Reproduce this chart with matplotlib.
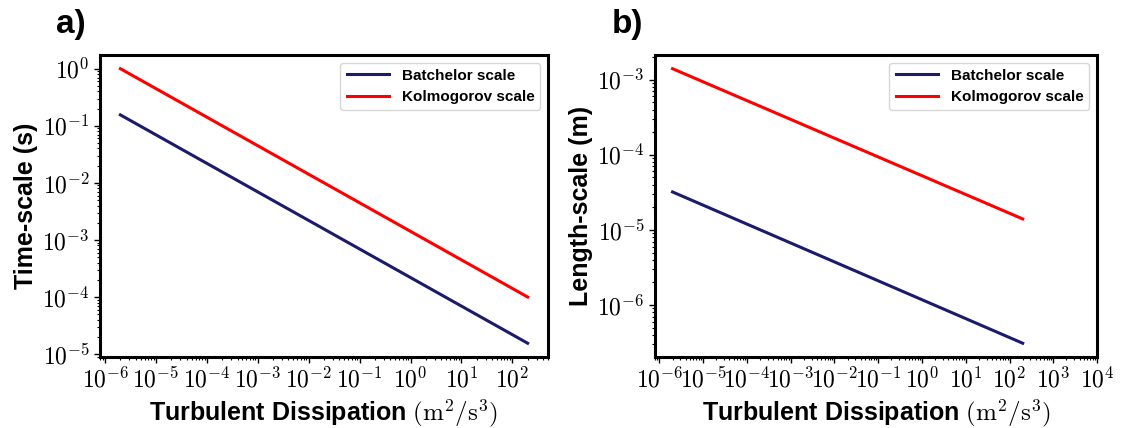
import matplotlib
matplotlib.use('Agg')
import matplotlib.pyplot as plt
import numpy as np
from matplotlib.ticker import FuncFormatter, LogLocator

plt.rcParams['mathtext.fontset'] = 'cm'
plt.rcParams['font.family'] = 'Liberation Sans'

# values (straight lines in log-log)
dissipation = [2e-6, 2e2]
time_batchelor = [0.155, 1.55e-5]
time_kolmogorov = [1.0, 1.0e-4]
length_batchelor = [3.2e-5, 3.1e-7]
length_kolmogorov = [1.4e-3, 1.4e-5]

navy = '#1b1b6b'
red = '#ff0000'


def pow10(v, pos):
    return r'$10^{%d}$' % int(round(np.log10(v)))


def style(ax, ylabel):
    ax.set_xscale('log')
    ax.set_yscale('log')
    for s in ax.spines.values():
        s.set_linewidth(2.2)
    ax.xaxis.set_major_locator(LogLocator(base=10, numticks=20))
    ax.xaxis.set_minor_locator(LogLocator(base=10, subs=np.arange(2, 10), numticks=20))
    ax.xaxis.set_major_formatter(FuncFormatter(pow10))
    ax.yaxis.set_major_formatter(FuncFormatter(pow10))
    ax.tick_params(which='major', labelsize=17, length=4, width=1)
    ax.tick_params(which='minor', length=2, width=0.8)
    ax.set_xlabel(r'Turbulent Dissipation $(\mathrm{m^2/s^3})$', fontsize=18, fontweight='bold', labelpad=3)
    ax.set_ylabel(ylabel, fontsize=18, fontweight='bold', labelpad=3)
    ax.legend(loc='upper right', prop={'weight': 'bold', 'size': 11}, handlelength=2.8)


fig = plt.figure(figsize=(11.29, 4.28), dpi=100)
ax1 = fig.add_axes([0.0886, 0.166, 0.3968, 0.7056])
ax2 = fig.add_axes([0.5802, 0.166, 0.3915, 0.7056])

ax1.plot(dissipation, time_batchelor, color=navy, lw=2.2, label='Batchelor scale')
ax1.plot(dissipation, time_kolmogorov, color=red, lw=2.2, label='Kolmogorov scale')
style(ax1, 'Time-scale (s)')

ax2.plot(dissipation, length_batchelor, color=navy, lw=2.2, label='Batchelor scale')
ax2.plot(dissipation, length_kolmogorov, color=red, lw=2.2, label='Kolmogorov scale')
style(ax2, 'Length-scale (m)')
ax2.set_xlim(right=1e4)

fig.text(0.05, 0.923, 'a)', fontsize=24, fontweight='bold', ha='left', va='baseline')
fig.text(0.542, 0.923, 'b)', fontsize=24, fontweight='bold', ha='left', va='baseline')

fig.savefig('out.png', dpi=100)
